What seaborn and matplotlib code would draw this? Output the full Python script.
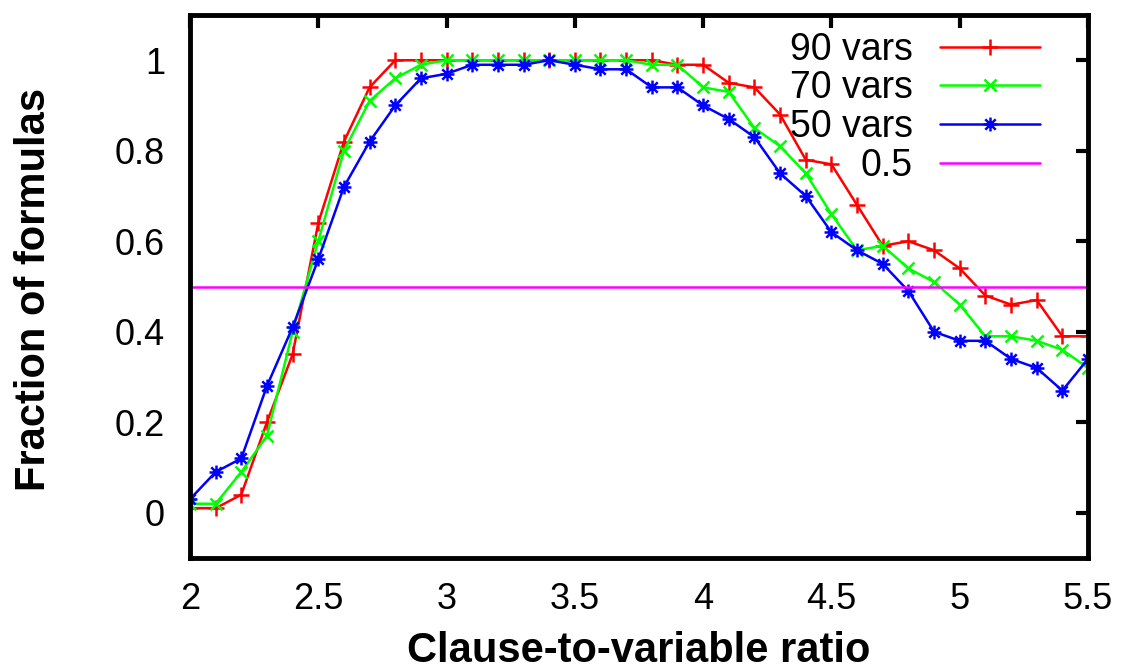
import numpy as np
import pandas as pd
import matplotlib
matplotlib.use("Agg")
import matplotlib.pyplot as plt
import seaborn as sns
from matplotlib.path import Path
from matplotlib.ticker import FormatStrFormatter

ratio = [2.0, 2.1, 2.2, 2.3, 2.4, 2.5, 2.6, 2.7, 2.8, 2.9,
         3.0, 3.1, 3.2, 3.3, 3.4, 3.5, 3.6, 3.7, 3.8, 3.9,
         4.0, 4.1, 4.2, 4.3, 4.4, 4.5, 4.6, 4.7, 4.8, 4.9,
         5.0, 5.1, 5.2, 5.3, 5.4, 5.5]

vars90 = [0.01, 0.01, 0.04, 0.20, 0.35, 0.64, 0.82, 0.94, 1.00, 1.00,
          1.00, 1.00, 1.00, 1.00, 1.00, 1.00, 1.00, 1.00, 1.00, 0.99,
          0.99, 0.95, 0.94, 0.88, 0.78, 0.77, 0.68, 0.59, 0.60, 0.58,
          0.54, 0.48, 0.46, 0.47, 0.39, 0.39]

vars70 = [0.02, 0.02, 0.09, 0.17, 0.40, 0.60, 0.80, 0.91, 0.96, 0.99,
          1.00, 1.00, 1.00, 1.00, 1.00, 1.00, 1.00, 1.00, 0.99, 0.99,
          0.94, 0.93, 0.85, 0.81, 0.75, 0.66, 0.58, 0.59, 0.54, 0.51,
          0.46, 0.39, 0.39, 0.38, 0.36, 0.32]

vars50 = [0.03, 0.09, 0.12, 0.28, 0.41, 0.56, 0.72, 0.82, 0.90, 0.96,
          0.97, 0.99, 0.99, 0.99, 1.00, 0.99, 0.98, 0.98, 0.94, 0.94,
          0.90, 0.87, 0.83, 0.75, 0.70, 0.62, 0.58, 0.55, 0.49, 0.40,
          0.38, 0.38, 0.34, 0.32, 0.27, 0.34]

threshold = 0.5

xticks = [2, 2.5, 3, 3.5, 4, 4.5, 5, 5.5]
yticks = [0, 0.2, 0.4, 0.6, 0.8, 1]

sns.set_style("white")
plt.rcParams["font.family"] = ["Liberation Sans", "DejaVu Sans"]
plt.rcParams["text.color"] = "black"
plt.rcParams["axes.labelcolor"] = "black"
plt.rcParams["xtick.color"] = "black"
plt.rcParams["ytick.color"] = "black"

# gnuplot style asterisk: plus + cross
star = Path(
    [(-1, 0), (1, 0), (0, -1), (0, 1), (-0.75, -0.75), (0.75, 0.75), (-0.75, 0.75), (0.75, -0.75)],
    [Path.MOVETO, Path.LINETO] * 4,
)

fig = plt.figure(figsize=(11.22, 6.72), dpi=100)
ax = fig.add_axes([0.1693, 0.1696, 0.8004, 0.8081])

df = pd.DataFrame({"ratio": ratio, "90 vars": vars90, "70 vars": vars70, "50 vars": vars50})

sns.lineplot(data=df, x="ratio", y="90 vars", ax=ax, color="#ff0000", marker="+",
             markersize=11, markeredgewidth=1.8, markeredgecolor="#ff0000",
             linewidth=1.8, label="90 vars")
sns.lineplot(data=df, x="ratio", y="70 vars", ax=ax, color="#00ff00", marker="x",
             markersize=9, markeredgewidth=1.8, markeredgecolor="#00ff00",
             linewidth=1.8, label="70 vars")
sns.lineplot(data=df, x="ratio", y="50 vars", ax=ax, color="#0000ff", marker=star,
             markersize=10, markeredgewidth=1.8, markerfacecolor="none",
             markeredgecolor="#0000ff", linewidth=1.8, label="50 vars")
ax.axhline(threshold, color="#ff00ff", linewidth=1.8, label="0.5")

ax.set_xlim(2, 5.5)
ax.set_ylim(-0.1, 1.1)
ax.set_xticks(xticks)
ax.set_yticks(yticks)
ax.xaxis.set_major_formatter(FormatStrFormatter("%g"))
ax.yaxis.set_major_formatter(FormatStrFormatter("%g"))
ax.tick_params(direction="in", top=True, right=True, length=9, width=3,
               labelsize=26, color="black", labelcolor="black")
ax.tick_params(axis="x", pad=17)
ax.tick_params(axis="y", pad=18)
for s in ax.spines.values():
    s.set_linewidth(3.5)
    s.set_color("black")

ax.set_xlabel("Clause-to-variable ratio", fontsize=30, fontweight="bold", color="black")
ax.set_ylabel("Fraction of formulas", fontsize=30, fontweight="bold", color="black")
ax.xaxis.set_label_coords(0.5, -0.135)
ax.yaxis.set_label_coords(-0.151, 0.494)

ax.legend(loc="upper right", bbox_to_anchor=(0.9465, 0.969), frameon=False,
          markerfirst=False, numpoints=1, fontsize=27, handlelength=2.67,
          handletextpad=0.72, labelspacing=0.07, borderpad=0, borderaxespad=0)

fig.savefig("out.png", dpi=100)
